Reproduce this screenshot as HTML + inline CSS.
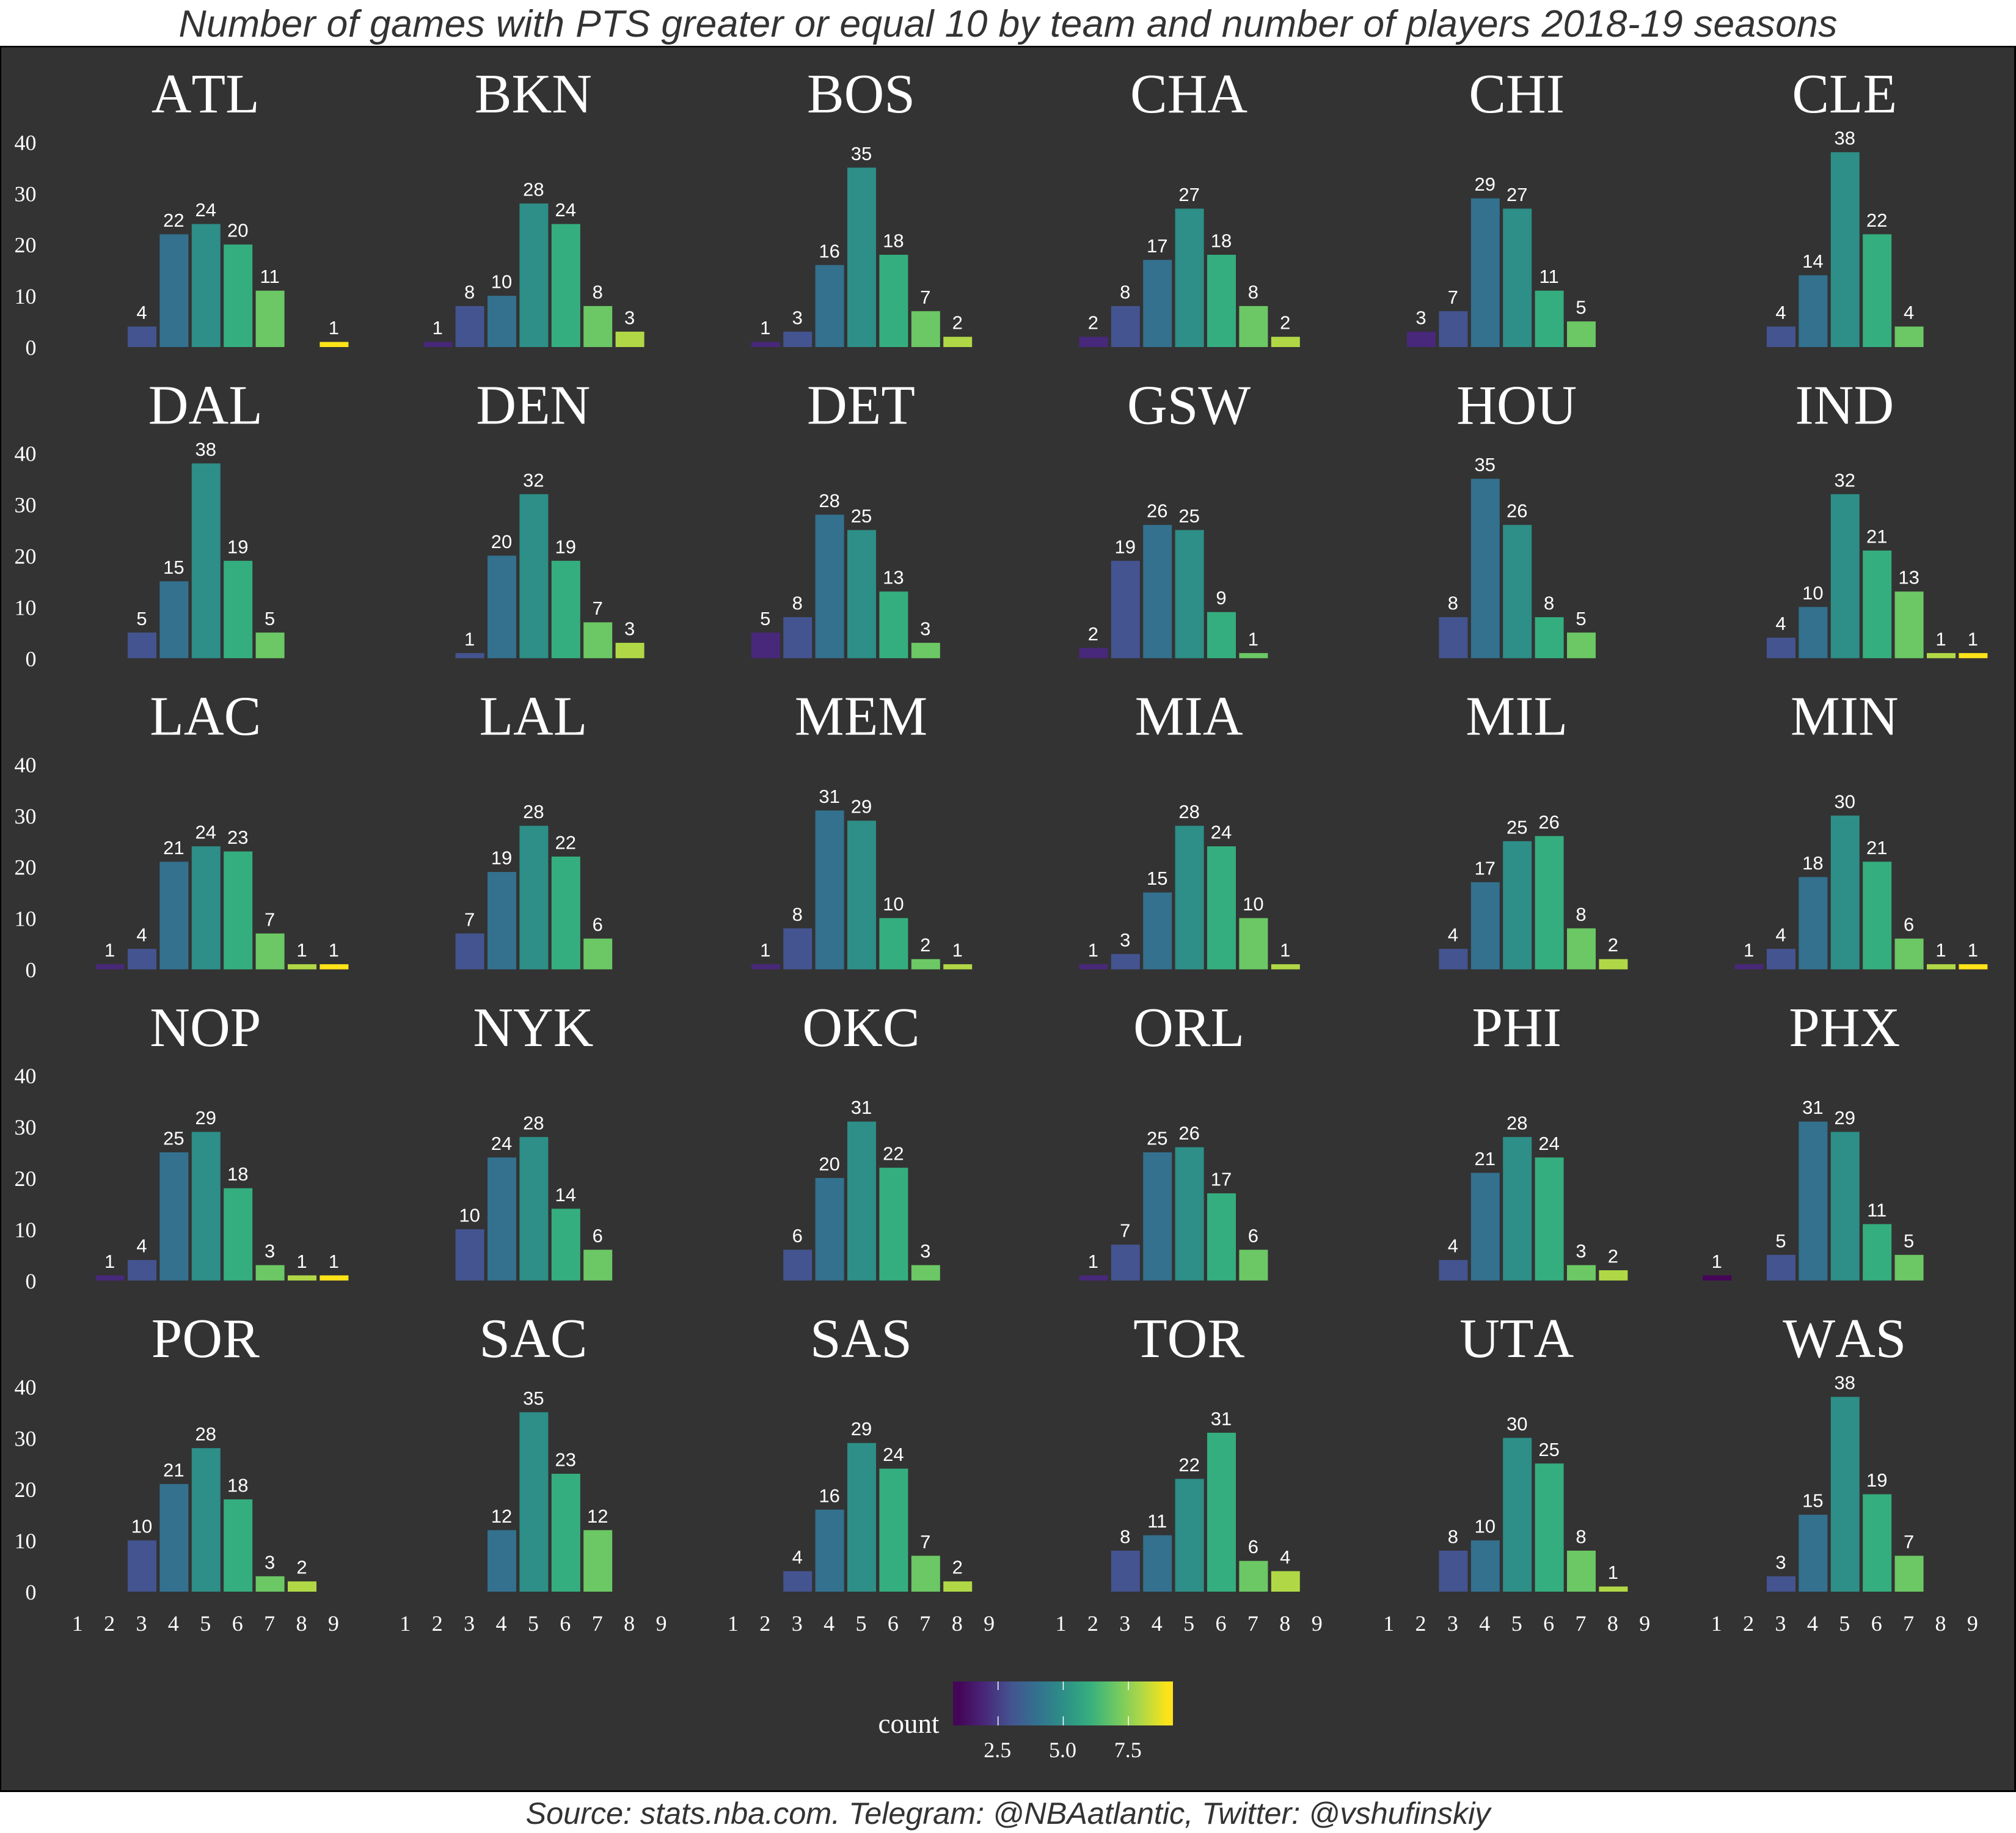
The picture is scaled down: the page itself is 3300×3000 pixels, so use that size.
<!DOCTYPE html>
<html lang="en">
<head>
<meta charset="utf-8">
<title>Number of games with PTS greater or equal 10</title>
<style>
html,body{margin:0;padding:0;background:#fff;}
svg{display:block;}
.serif{font-family:"Liberation Serif",serif;fill:#fff;}
.sans{font-family:"Liberation Sans",sans-serif;}
.strip{font-kerning:none;}
</style>
</head>
<body>
<svg id="chart" xmlns="http://www.w3.org/2000/svg" width="3300" height="3000" viewBox="0 0 3300 3000">
  <defs>
    <linearGradient id="legendGradient" gradientUnits="userSpaceOnUse" x1="1560" x2="1920" y1="0" y2="0"></linearGradient>
  </defs>
  <rect x="0" y="0" width="3300" height="3000" fill="#ffffff"/>
  <text class="sans" x="1650" y="60" text-anchor="middle" font-size="62.5" font-style="italic" fill="#333333" textLength="2715" lengthAdjust="spacing">Number of games with PTS greater or equal 10 by team and number of players 2018-19 seasons</text>
  <rect x="0" y="75" width="3300" height="2858" fill="#000000"/>
  <rect x="2" y="77.5" width="3295" height="2852.5" fill="#333333"/>
  <g id="facets"></g>
  <g id="legend">
    <rect x="1560" y="2752" width="360" height="72" fill="url(#legendGradient)"/>
    <text class="serif" x="1487.5" y="2836" text-anchor="middle" font-size="45">count</text>
  </g>
  <text class="sans" x="1650" y="2985" text-anchor="middle" font-size="50.5" font-style="italic" fill="#333333" textLength="1579" lengthAdjust="spacing">Source: stats.nba.com. Telegram: @NBAatlantic, Twitter: @vshufinskiy</text>
</svg>
<script>
const teams = ["ATL","BKN","BOS","CHA","CHI","CLE","DAL","DEN","DET","GSW","HOU","IND","LAC","LAL","MEM","MIA","MIL","MIN","NOP","NYK","OKC","ORL","PHI","PHX","POR","SAC","SAS","TOR","UTA","WAS"];
const playerCounts = [1,2,3,4,5,6,7,8,9];
const yTicks = [0,10,20,30,40];
const legendTicks = [2.5,5,7.5];

// Games per number of players (1..9); 0 = no bar
const gamesATL = [0,0,4,22,24,20,11,0,1];
const gamesBKN = [0,1,8,10,28,24,8,3,0];
const gamesBOS = [0,1,3,16,35,18,7,2,0];
const gamesCHA = [0,2,8,17,27,18,8,2,0];
const gamesCHI = [0,3,7,29,27,11,5,0,0];
const gamesCLE = [0,0,4,14,38,22,4,0,0];
const gamesDAL = [0,0,5,15,38,19,5,0,0];
const gamesDEN = [0,0,1,20,32,19,7,3,0];
const gamesDET = [0,5,8,28,25,13,3,0,0];
const gamesGSW = [0,2,19,26,25,9,1,0,0];
const gamesHOU = [0,0,8,35,26,8,5,0,0];
const gamesIND = [0,0,4,10,32,21,13,1,1];
const gamesLAC = [0,1,4,21,24,23,7,1,1];
const gamesLAL = [0,0,7,19,28,22,6,0,0];
const gamesMEM = [0,1,8,31,29,10,2,1,0];
const gamesMIA = [0,1,3,15,28,24,10,1,0];
const gamesMIL = [0,0,4,17,25,26,8,2,0];
const gamesMIN = [0,1,4,18,30,21,6,1,1];
const gamesNOP = [0,1,4,25,29,18,3,1,1];
const gamesNYK = [0,0,10,24,28,14,6,0,0];
const gamesOKC = [0,0,6,20,31,22,3,0,0];
const gamesORL = [0,1,7,25,26,17,6,0,0];
const gamesPHI = [0,0,4,21,28,24,3,2,0];
const gamesPHX = [1,0,5,31,29,11,5,0,0];
const gamesPOR = [0,0,10,21,28,18,3,2,0];
const gamesSAC = [0,0,0,12,35,23,12,0,0];
const gamesSAS = [0,0,4,16,29,24,7,2,0];
const gamesTOR = [0,0,8,11,22,31,6,4,0];
const gamesUTA = [0,0,8,10,30,25,8,1,0];
const gamesWAS = [0,0,3,15,38,19,7,0,0];
const gamesByTeam = [gamesATL,gamesBKN,gamesBOS,gamesCHA,gamesCHI,gamesCLE,gamesDAL,gamesDEN,gamesDET,gamesGSW,gamesHOU,gamesIND,gamesLAC,gamesLAL,gamesMEM,gamesMIA,gamesMIL,gamesMIN,gamesNOP,gamesNYK,gamesOKC,gamesORL,gamesPHI,gamesPHX,gamesPOR,gamesSAC,gamesSAS,gamesTOR,gamesUTA,gamesWAS];

const viridis = ["#450558","#48287a","#445490","#33718f","#2d8f87","#35ae7f","#6cc864","#b0d846","#fde318"];

const NS = "http://www.w3.org/2000/svg";
const COLS = 6;
const colStep = 536.6, rowStep = 509.25;
const x0 = 127.7, xUnit = 52.4, barW = 47;
const y0 = 568, yUnit = 8.39;

function xScale(col, k){ return x0 + colStep*col + (k-1)*xUnit; }
function yScale(row, v){ return y0 + rowStep*row - v*yUnit; }
function legendX(v){ return 1633.7 + (v-2.5)*42.7; }
function colourFor(k){ return viridis[k-1]; }

function make(tag, parent, cfg, content){
  const el = document.createElementNS(NS, tag);
  Object.keys(cfg).forEach(function(key){ el.setAttribute(key, cfg[key]); });
  if (content !== undefined) el.textContent = content;
  parent.appendChild(el);
  return el;
}

const facets = document.getElementById("facets");
teams.forEach(function(team, i){
  const col = i % COLS, row = Math.floor(i / COLS);
  const values = gamesByTeam[i];
  const g = make("g", facets, {});
  
  

  const strip = make("text", g, {"class":"serif strip", x:xScale(col,5)-1, y:y0+rowStep*row-384, "text-anchor":"middle", "font-size":91}, team);
  
  

  playerCounts.forEach(function(k, idx){
    const v = values[idx];
    if (!v) return;
    const top = yScale(row, v);
    const bar = make("rect", g, {x:xScale(col,k)-barW/2, y:top, width:barW, height:v*yUnit, fill:colourFor(k)});
    
    
    const label = make("text", g, {"class":"sans", x:xScale(col,k)-0.5, y:top-12.5, "text-anchor":"middle", "font-size":31, fill:"#ffffff"}, String(v));
    
    
  });

  if (col === 0) {
    yTicks.forEach(function(t){
      const yl = make("text", g, {"class":"serif", x:59.5, y:yScale(row,t)+13, "text-anchor":"end", "font-size":36}, String(t));
      
      
    });
  }
  if (row === 4) {
    playerCounts.forEach(function(k){
      const xl = make("text", g, {"class":"serif", x:xScale(col,k)-1, y:2669, "text-anchor":"middle", "font-size":36}, String(k));
      
      
    });
  }
});

const grad = document.getElementById("legendGradient");
playerCounts.forEach(function(k){
  make("stop", grad, {offset:((legendX(k)-1560)/360).toFixed(4), "stop-color":colourFor(k)});
});

const legend = document.getElementById("legend");
legendTicks.forEach(function(t){
  const px = legendX(t);
  const tickTop = make("rect", legend, {x:px-0.75, y:2752, width:1.5, height:14, fill:"#ffffff"});
  
  
  const tickBottom = make("rect", legend, {x:px-0.75, y:2809, width:1.5, height:15, fill:"#ffffff"});
  
  
  const lab = make("text", legend, {"class":"serif", x:px-1, y:2876, "text-anchor":"middle", "font-size":36}, t.toFixed(1));
  
  
});
</script>
</body>
</html>
